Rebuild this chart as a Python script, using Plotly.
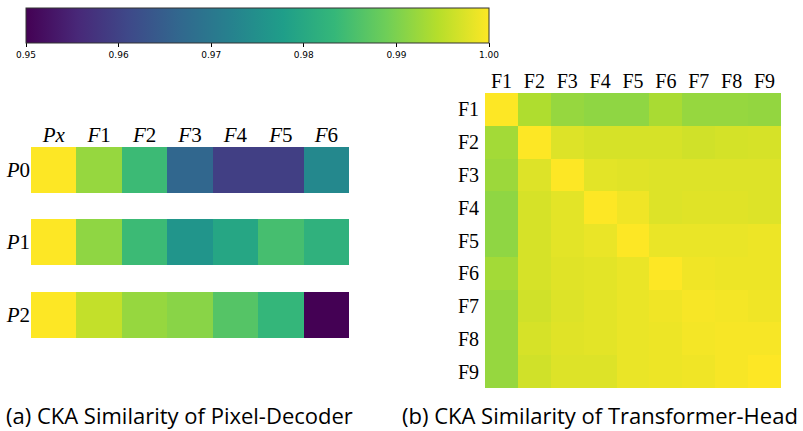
import plotly.graph_objects as go

W, H = 803, 431

# ---- data ----
left_cols = ["Px", "F1", "F2", "F3", "F4", "F5", "F6"]
left_rows = ["P0", "P1", "P2"]
P0 = [1.000, 0.9920, 0.9840, 0.9665, 0.9595, 0.9595, 0.9735]
P1 = [1.000, 0.9915, 0.9840, 0.9760, 0.9795, 0.9850, 0.9820]
P2 = [1.000, 0.9955, 0.9920, 0.9910, 0.9865, 0.9830, 0.9500]

right_labels = ["F1", "F2", "F3", "F4", "F5", "F6", "F7", "F8", "F9"]
R = [
    [1.0000, 0.9940, 0.9920, 0.9915, 0.9915, 0.9935, 0.9920, 0.9920, 0.9918],
    [0.9930, 1.0000, 0.9975, 0.9970, 0.9970, 0.9970, 0.9965, 0.9968, 0.9970],
    [0.9925, 0.9975, 1.0000, 0.9980, 0.9978, 0.9975, 0.9975, 0.9975, 0.9975],
    [0.9915, 0.9970, 0.9980, 1.0000, 0.9990, 0.9975, 0.9978, 0.9978, 0.9975],
    [0.9915, 0.9970, 0.9980, 0.9985, 1.0000, 0.9985, 0.9985, 0.9985, 0.9988],
    [0.9930, 0.9970, 0.9978, 0.9980, 0.9985, 1.0000, 0.9990, 0.9988, 0.9988],
    [0.9920, 0.9965, 0.9975, 0.9980, 0.9985, 0.9990, 0.9995, 0.9993, 0.9990],
    [0.9920, 0.9970, 0.9978, 0.9980, 0.9985, 0.9988, 0.9993, 0.9995, 0.9995],
    [0.9920, 0.9965, 0.9975, 0.9975, 0.9985, 0.9988, 0.9990, 0.9995, 1.0000],
]

cbar_ticks = [0.95, 0.96, 0.97, 0.98, 0.99, 1.00]
captions = ["(a) CKA Similarity of Pixel-Decoder", "(b) CKA Similarity of Transformer-Head"]

def px(x):
    return x / W

def py(y):
    return 1 - y / H

fig = go.Figure()

rows_vals = [P0, P1, P2]
yaxes = ["y", "y2", "y3"]
for name, vals, ya in zip(left_rows, rows_vals, yaxes):
    fig.add_trace(go.Heatmap(z=[vals], x=left_cols, y=[name], coloraxis="coloraxis",
                             xaxis="x", yaxis=ya, xgap=0, ygap=0))

fig.add_trace(go.Heatmap(z=R, x=right_labels, y=right_labels, coloraxis="coloraxis",
                         xaxis="x2", yaxis="y4"))

serif = "Liberation Serif"
left_tick_text = ["<i>Px</i>"] + ["<i>F</i>" + c[1:] for c in left_cols[1:]]
left_font = dict(family=serif, size=21, color="black")
right_font = dict(family=serif, size=20, color="black")

row_domains = [[py(193), py(147)], [py(265), py(219)], [py(338), py(292)]]

layout = dict(
    width=W, height=H,
    margin=dict(l=0, r=0, t=0, b=0),
    paper_bgcolor="white", plot_bgcolor="white",
    showlegend=False,
    coloraxis=dict(
        colorscale="Viridis", cmin=0.95, cmax=1.0,
        colorbar=dict(
            orientation="h", lenmode="pixels", len=463, thickness=35,
            x=px(26), xanchor="left", y=py(8), yanchor="top",
            xpad=0, ypad=0, outlinewidth=1, outlinecolor="#333",
            tickvals=cbar_ticks, ticktext=[f"{t:.2f}" for t in cbar_ticks],
            ticks="outside", ticklen=4, tickwidth=1, tickcolor="black",
            tickfont=dict(family="DejaVu Sans", size=9, color="black"),
        ),
    ),
    xaxis=dict(domain=[px(31), px(349)], anchor="y", side="top",
               tickmode="array", tickvals=left_cols, ticktext=left_tick_text,
               tickfont=left_font, showgrid=False, zeroline=False, ticks="",
               showline=False),
    xaxis2=dict(domain=[px(485), px(781)], anchor="y4", side="top",
                tickfont=right_font, showgrid=False, zeroline=False, ticks="",
                showline=False),
    yaxis4=dict(domain=[py(388), py(93)], anchor="x2", autorange="reversed",
                tickfont=right_font, showgrid=False, zeroline=False, ticks="",
                showline=False, ticksuffix=" "),
)
for i, (ya, name) in enumerate(zip(["yaxis", "yaxis2", "yaxis3"], left_rows)):
    layout[ya] = dict(domain=row_domains[i], anchor="x",
                      tickmode="array", tickvals=[name],
                      ticktext=["<i>P</i>" + name[1:]],
                      tickfont=left_font, showgrid=False, zeroline=False,
                      ticks="", showline=False)

cap_font = dict(family="Open Sans", size=22, color="black")
layout["annotations"] = [
    dict(text=captions[0], x=px(179), y=py(415), xref="paper", yref="paper",
         xanchor="center", yanchor="middle", showarrow=False, font=cap_font),
    dict(text=captions[1], x=px(600), y=py(415), xref="paper", yref="paper",
         xanchor="center", yanchor="middle", showarrow=False, font=cap_font),
]

fig.update_layout(**layout)
fig.write_html("out.html",
               config={"displayModeBar": False},
               post_script="document.body.style.margin='0';document.body.style.overflow='hidden';")
